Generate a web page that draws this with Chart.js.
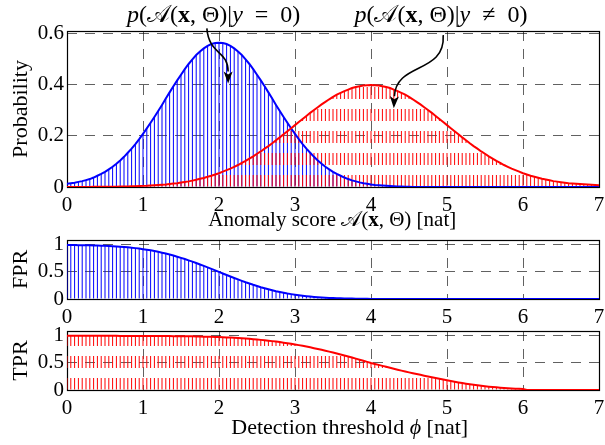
<!DOCTYPE html>
<html>
<head>
<meta charset="utf-8">
<script src="https://cdn.jsdelivr.net/npm/chart.js@4.4.1/dist/chart.umd.min.js"></script>
<style>
  body { margin: 0; background: #fff; }
  #wrap { position: relative; width: 605px; height: 445px; }
  canvas { position: absolute; left: 0; }
</style>
</head>
<body>
<div id="wrap">
  <canvas id="pdfChart" width="605" height="240" style="top:0px"></canvas>
  <canvas id="fprChart" width="605" height="97" style="top:228px"></canvas>
  <canvas id="tprChart" width="605" height="120" style="top:325px"></canvas>
</div>
<script>
// anomaly score / detection threshold grid [nat]
const scores = [
  0, 0.05, 0.1, 0.15, 0.2, 0.25, 0.3, 0.35, 0.4, 0.45, 0.5, 0.55, 0.6, 0.65, 0.7, 0.75, 0.8, 0.85, 0.9, 0.95,
  1, 1.05, 1.1, 1.15, 1.2, 1.25, 1.3, 1.35, 1.4, 1.45, 1.5, 1.55, 1.6, 1.65, 1.7, 1.75, 1.8, 1.85, 1.9, 1.95,
  2, 2.05, 2.1, 2.15, 2.2, 2.25, 2.3, 2.35, 2.4, 2.45, 2.5, 2.55, 2.6, 2.65, 2.7, 2.75, 2.8, 2.85, 2.9, 2.95,
  3, 3.05, 3.1, 3.15, 3.2, 3.25, 3.3, 3.35, 3.4, 3.45, 3.5, 3.55, 3.6, 3.65, 3.7, 3.75, 3.8, 3.85, 3.9, 3.95,
  4, 4.05, 4.1, 4.15, 4.2, 4.25, 4.3, 4.35, 4.4, 4.45, 4.5, 4.55, 4.6, 4.65, 4.7, 4.75, 4.8, 4.85, 4.9, 4.95,
  5, 5.05, 5.1, 5.15, 5.2, 5.25, 5.3, 5.35, 5.4, 5.45, 5.5, 5.55, 5.6, 5.65, 5.7, 5.75, 5.8, 5.85, 5.9, 5.95,
  6, 6.05, 6.1, 6.15, 6.2, 6.25, 6.3, 6.35, 6.4, 6.45, 6.5, 6.55, 6.6, 6.65, 6.7, 6.75, 6.8, 6.85, 6.9, 6.95,
  7
];

// p(A(x,Theta) | y = 0)
const normalPdf = [
  0.013, 0.015, 0.017, 0.020, 0.023, 0.027, 0.031, 0.037, 0.044, 0.051, 0.059, 0.069, 0.079, 0.091, 0.104, 0.118, 0.134, 0.150, 0.168, 0.187,
  0.208, 0.229, 0.251, 0.274, 0.297, 0.321, 0.346, 0.370, 0.394, 0.417, 0.439, 0.461, 0.481, 0.499, 0.516, 0.530, 0.542, 0.552, 0.559, 0.563,
  0.564, 0.563, 0.559, 0.552, 0.542, 0.530, 0.516, 0.499, 0.481, 0.461, 0.439, 0.417, 0.394, 0.370, 0.346, 0.321, 0.297, 0.274, 0.251, 0.229,
  0.208, 0.187, 0.168, 0.150, 0.134, 0.118, 0.104, 0.091, 0.079, 0.069, 0.059, 0.051, 0.044, 0.037, 0.031, 0.026, 0.022, 0.018, 0.015, 0.013,
  0.010, 0.008, 0.007, 0.006, 0.005, 0.004, 0.003, 0.002, 0.002, 0.001, 0.001, 0, 0, 0, 0, 0, 0, 0, 0, 0,
  0, 0, 0, 0, 0, 0, 0, 0, 0, 0, 0, 0, 0, 0, 0, 0, 0, 0, 0, 0,
  0, 0, 0, 0, 0, 0, 0, 0, 0, 0, 0, 0, 0, 0, 0, 0, 0, 0, 0, 0,
  0
];

// p(A(x,Theta) | y != 0)
const anomalyPdf = [
  0.0001, 0.0001, 0.0002, 0.0002, 0.0003, 0.0003, 0.0004, 0.0005, 0.0006, 0.0007, 0.0009, 0.0010, 0.0012, 0.0014, 0.0017, 0.0020, 0.0024, 0.0028, 0.0033, 0.0038,
  0.0044, 0.005, 0.006, 0.007, 0.008, 0.009, 0.010, 0.012, 0.014, 0.015, 0.018, 0.020, 0.022, 0.025, 0.028, 0.032, 0.035, 0.040, 0.044, 0.049,
  0.054, 0.060, 0.066, 0.072, 0.079, 0.086, 0.094, 0.102, 0.111, 0.120, 0.130, 0.139, 0.150, 0.160, 0.171, 0.183, 0.194, 0.206, 0.218, 0.230,
  0.242, 0.254, 0.266, 0.278, 0.290, 0.301, 0.312, 0.323, 0.333, 0.343, 0.352, 0.361, 0.368, 0.375, 0.381, 0.387, 0.391, 0.394, 0.397, 0.398,
  0.399, 0.398, 0.397, 0.394, 0.391, 0.387, 0.381, 0.375, 0.368, 0.361, 0.352, 0.343, 0.333, 0.323, 0.312, 0.301, 0.290, 0.278, 0.266, 0.254,
  0.242, 0.230, 0.218, 0.206, 0.194, 0.183, 0.171, 0.160, 0.150, 0.139, 0.130, 0.120, 0.111, 0.102, 0.094, 0.086, 0.079, 0.072, 0.066, 0.060,
  0.054, 0.049, 0.044, 0.040, 0.036, 0.032, 0.029, 0.026, 0.023, 0.021, 0.019, 0.017, 0.015, 0.014, 0.013, 0.012, 0.011, 0.010, 0.009, 0.008,
  0.007
];

const fpr = [
  0.998, 0.997, 0.996, 0.995, 0.995, 0.993, 0.992, 0.990, 0.988, 0.986, 0.983, 0.980, 0.976, 0.972, 0.967, 0.962, 0.955, 0.948, 0.940, 0.931,
  0.921, 0.910, 0.899, 0.885, 0.871, 0.856, 0.839, 0.821, 0.802, 0.782, 0.760, 0.738, 0.714, 0.690, 0.664, 0.638, 0.611, 0.584, 0.556, 0.528,
  0.500, 0.472, 0.444, 0.416, 0.389, 0.362, 0.336, 0.310, 0.286, 0.262, 0.240, 0.218, 0.198, 0.179, 0.161, 0.144, 0.129, 0.115, 0.101, 0.090,
  0.079, 0.069, 0.060, 0.052, 0.045, 0.039, 0.033, 0.028, 0.024, 0.020, 0.017, 0.014, 0.012, 0.010, 0.008, 0.007, 0.006, 0.004, 0.004, 0.003,
  0.002, 0.002, 0.001, 0.001, 0.001, 0, 0, 0, 0, 0, 0, 0, 0, 0, 0, 0, 0, 0, 0, 0,
  0, 0, 0, 0, 0, 0, 0, 0, 0, 0, 0, 0, 0, 0, 0, 0, 0, 0, 0, 0,
  0, 0, 0, 0, 0, 0, 0, 0, 0, 0, 0, 0, 0, 0, 0, 0, 0, 0, 0, 0,
  0
];

const tpr = [
  1, 1, 1, 1, 1, 1, 1, 1, 1, 1, 1, 1, 1, 1, 0.999, 0.999, 0.999, 0.999, 0.999, 0.999,
  0.999, 0.998, 0.998, 0.998, 0.997, 0.997, 0.997, 0.996, 0.995, 0.995, 0.994, 0.993, 0.992, 0.991, 0.989, 0.988, 0.986, 0.984, 0.982, 0.980,
  0.977, 0.974, 0.971, 0.968, 0.964, 0.960, 0.955, 0.951, 0.945, 0.939, 0.933, 0.926, 0.919, 0.912, 0.903, 0.894, 0.885, 0.875, 0.864, 0.853,
  0.841, 0.829, 0.816, 0.802, 0.788, 0.773, 0.758, 0.742, 0.726, 0.709, 0.692, 0.674, 0.655, 0.637, 0.618, 0.599, 0.579, 0.560, 0.540, 0.520,
  0.500, 0.482, 0.464, 0.446, 0.428, 0.410, 0.392, 0.375, 0.358, 0.342, 0.326, 0.310, 0.295, 0.280, 0.265, 0.250, 0.236, 0.222, 0.208, 0.195,
  0.180, 0.166, 0.153, 0.140, 0.128, 0.117, 0.106, 0.096, 0.087, 0.078, 0.070, 0.062, 0.055, 0.049, 0.043, 0.038, 0.033, 0.029, 0.025, 0.022,
  0.020, 0.001, 0, 0, 0, 0, 0, 0, 0, 0, 0, 0, 0, 0, 0, 0, 0, 0, 0, 0,
  0
];

const xTicks = [0, 1, 2, 3, 4, 5, 6, 7];
const pdfTicks = [0, 0.2, 0.4, 0.6];
const rateTicks = [0, 0.5, 1];

// math labels as [text, font style] runs
const normalLabel = [['p', 'italic'], ['(', ''], ['𝒜', ''], ['(', ''], ['x', 'bold'], [', Θ)|', ''], ['y', 'italic'], ['  =  0)', '']];
const anomalyLabel = [['p', 'italic'], ['(', ''], ['𝒜', ''], ['(', ''], ['x', 'bold'], [', Θ)|', ''], ['y', 'italic'], ['  ≠  0)', '']];
const scoreTitle = [['Anomaly score ', ''], ['𝒜', ''], ['(', ''], ['x', 'bold'], [', Θ) [nat]', '']];
const thresholdTitle = [['Detection threshold ', ''], ['ϕ', 'italic'], [' [nat]', '']];

const BLUE = '#0000ff';
const RED = '#ff0000';
const serif = '"Liberation Serif", "DejaVu Serif", serif';
const gridColor = 'rgba(0,0,0,0.62)';

Chart.defaults.font.family = serif;
Chart.defaults.color = '#000';

const toPoints = arr => scores.map((x, i) => ({ x: x, y: arr[i] }));

function runFont(style, size) {
  return style + ' ' + size + 'px ' + serif;
}

function drawRuns(ctx, runs, cx, baseline, size) {
  let total = 0;
  const widths = runs.map(r => {
    ctx.font = runFont(r[1], size);
    const w = ctx.measureText(r[0]).width;
    total += w;
    return w;
  });
  let x = cx - total / 2;
  ctx.fillStyle = '#000';
  ctx.textAlign = 'left';
  ctx.textBaseline = 'alphabetic';
  runs.forEach((r, i) => {
    ctx.font = runFont(r[1], size);
    ctx.fillText(r[0], x, baseline);
    x += widths[i];
  });
}

function redDashes(canvasId) {
  const c = document.createElement('canvas');
  c.width = 1;
  c.height = 22;
  const g = c.getContext('2d');
  g.fillStyle = RED;
  g.fillRect(0, 0, 1, 12);
  return document.getElementById(canvasId).getContext('2d').createPattern(c, 'repeat');
}

// keep dashed hatching anchored to y = 0
const alignDashes = {
  id: 'alignDashes',
  beforeDatasetsDraw(chart) {
    const y0 = chart.scales.y.getPixelForValue(0);
    chart.data.datasets.forEach(ds => {
      if (ds.backgroundColor instanceof CanvasPattern) {
        ds.backgroundColor.setTransform(new DOMMatrix([1, 0, 0, 1, 0, y0 - 12]));
      }
    });
  }
};

const frame = {
  id: 'frame',
  beforeDatasetsDraw(chart) {
    const { ctx, chartArea: a } = chart;
    ctx.save();
    ctx.strokeStyle = '#000';
    ctx.lineWidth = 1.2;
    ctx.strokeRect(Math.round(a.left) + 0.5, Math.round(a.top) + 0.5,
      Math.round(a.right - a.left), Math.round(a.bottom - a.top));
    ctx.restore();
  }
};

function xTitle(runs, xVal, offset, size) {
  return {
    id: 'xTitle',
    afterDraw(chart) {
      const ctx = chart.ctx;
      ctx.save();
      drawRuns(ctx, runs, chart.scales.x.getPixelForValue(xVal), chart.chartArea.bottom + offset, size);
      ctx.restore();
    }
  };
}

// labels and curved arrows, placed in data coordinates
const labelNotes = [
  { runs: normalLabel, x: 1.93, y: 0.645 },
  { runs: anomalyLabel, x: 4.92, y: 0.645 }
];
const arrowNotes = [
  [[1.84, 0.62], [1.87, 0.515], [2.12, 0.535], [2.12, 0.405]],
  [[4.95, 0.594], [4.98, 0.44], [4.33, 0.49], [4.30, 0.308]]
];

const annotate = {
  id: 'annotate',
  afterDraw(chart) {
    const { ctx, scales: { x, y } } = chart;
    ctx.save();
    labelNotes.forEach(n => drawRuns(ctx, n.runs, x.getPixelForValue(n.x), y.getPixelForValue(n.y), 24));
    arrowNotes.forEach(a => {
      const p = a.map(q => [x.getPixelForValue(q[0]), y.getPixelForValue(q[1])]);
      const ang = Math.atan2(p[3][1] - p[2][1], p[3][0] - p[2][0]);
      const hl = 12, hw = 4.5;
      const bx = p[3][0] - hl * Math.cos(ang), by = p[3][1] - hl * Math.sin(ang);
      ctx.strokeStyle = '#000';
      ctx.lineWidth = 1.6;
      ctx.beginPath();
      ctx.moveTo(p[0][0], p[0][1]);
      ctx.bezierCurveTo(p[1][0], p[1][1], p[2][0], p[2][1], bx, by);
      ctx.stroke();
      ctx.fillStyle = '#000';
      ctx.beginPath();
      ctx.moveTo(p[3][0], p[3][1]);
      ctx.lineTo(bx + hw * Math.sin(ang), by - hw * Math.cos(ang));
      ctx.lineTo(bx + 3 * Math.cos(ang), by + 3 * Math.sin(ang));
      ctx.lineTo(bx - hw * Math.sin(ang), by + hw * Math.cos(ang));
      ctx.closePath();
      ctx.fill();
    });
    ctx.restore();
  }
};

function axisFont(size) {
  return { family: serif, size: size, weight: 'normal' };
}

function buildChart(canvasId, o) {
  return new Chart(document.getElementById(canvasId), {
    type: 'bar',
    data: { datasets: o.datasets },
    options: {
      responsive: false,
      animation: false,
      events: [],
      devicePixelRatio: 1,
      layout: { padding: { top: o.padTop, right: 6, bottom: 0, left: 0 } },
      plugins: { legend: { display: false }, tooltip: { enabled: false } },
      scales: {
        x: {
          type: 'linear',
          min: 0,
          max: 7,
          offset: false,
          z: 1,
          afterBuildTicks: s => { s.ticks = xTicks.map(v => ({ value: v })); },
          afterFit: s => { s.height = o.xHeight; s.paddingLeft = 0; s.paddingRight = 0; },
          grid: { color: gridColor, lineWidth: 1, drawTicks: false, offset: false },
          border: { display: false, dash: [10, 8] },
          ticks: { color: '#000', font: axisFont(21), padding: o.xPad, maxRotation: 0, callback: v => String(v) }
        },
        y: {
          min: 0,
          max: o.yMax,
          z: 1,
          afterBuildTicks: s => { s.ticks = o.yTicks.map(v => ({ value: v })); },
          afterFit: s => { s.width = 67; s.paddingTop = 0; s.paddingBottom = 0; },
          grid: { color: gridColor, lineWidth: 1, drawTicks: false },
          border: { display: false, dash: [10, 8] },
          ticks: { color: '#000', font: axisFont(21), padding: 3, callback: v => String(v) },
          title: { display: true, text: o.yTitle, color: '#000', font: axisFont(22), padding: { top: 8, bottom: 0 } }
        }
      }
    },
    plugins: [alignDashes, frame].concat(o.plugins || [])
  });
}

const hatch = (arr, color, order) => ({
  type: 'bar', data: toPoints(arr), backgroundColor: color, barThickness: 1,
  grouped: false, inflateAmount: 0, borderWidth: 0, order: order
});
const curve = (arr, color, order) => ({
  type: 'line', data: toPoints(arr), borderColor: color, borderWidth: 2,
  pointRadius: 0, fill: false, order: order
});

buildChart('pdfChart', {
  padTop: 31, xHeight: 53, xPad: 6, yMax: 0.61, yTicks: pdfTicks, yTitle: 'Probability',
  datasets: [
    curve(anomalyPdf, RED, 0),
    curve(normalPdf, BLUE, 1),
    hatch(anomalyPdf, redDashes('pdfChart'), 2),
    hatch(normalPdf, BLUE, 3)
  ],
  plugins: [annotate, xTitle(scoreTitle, 3.49, 39, 21)]
});

buildChart('fprChart', {
  padTop: 12, xHeight: 26, xPad: 6, yMax: 1.09, yTicks: rateTicks, yTitle: 'FPR',
  datasets: [curve(fpr, BLUE, 0), hatch(fpr, BLUE, 1)]
});

buildChart('tprChart', {
  padTop: 6, xHeight: 55, xPad: 6, yMax: 1.09, yTicks: rateTicks, yTitle: 'TPR',
  datasets: [curve(tpr, RED, 0), hatch(tpr, redDashes('tprChart'), 1)],
  plugins: [xTitle(thresholdTitle, 3.72, 44, 22)]
});
</script>
</body>
</html>
